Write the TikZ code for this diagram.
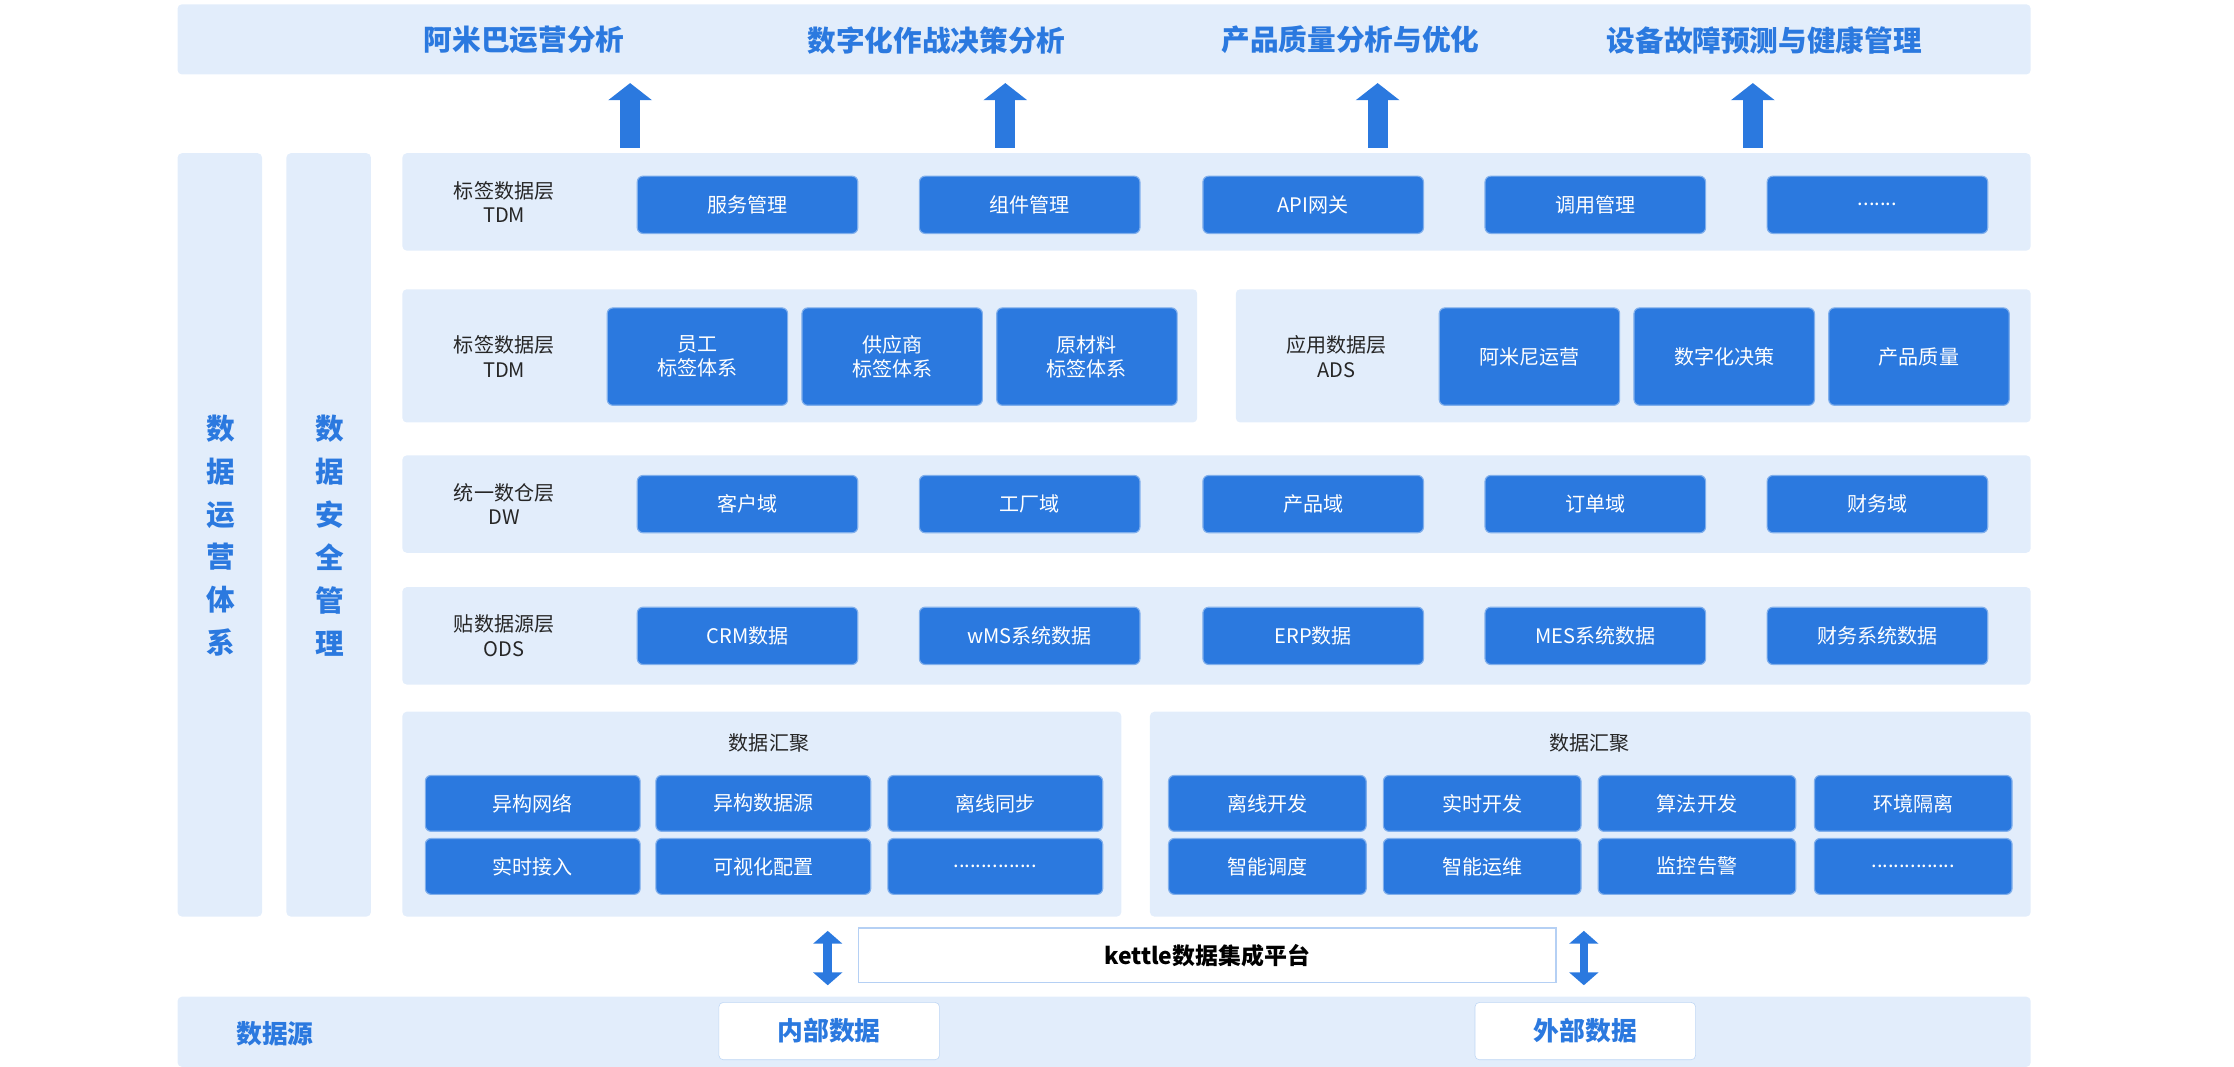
\documentclass[tikz,border=0pt]{standalone}
\usepackage{fontspec}
\setmainfont{Noto Sans CJK SC}
\usetikzlibrary{arrows.meta}
\definecolor{bandbg}{HTML}{E2EDFB}
\definecolor{boxblue}{HTML}{2B79DF}
\definecolor{titleblue}{HTML}{2B79DF}
\newcommand\shortdots{.......}
\newcommand\longdots{...............}
\begin{document}
\begin{tikzpicture}[x=1pt, y=-1pt,
    band/.style={fill=bandbg, draw=none, rounded corners=3pt},
    item/.style={rectangle, fill=boxblue, draw=boxblue!60, line width=0.8pt, rounded corners=4pt,
                 text=white, align=center, font=\fontsize{14}{17}\selectfont, inner sep=0pt},
    layer/.style={align=center, font=\fontsize{14}{17}\selectfont, text=black!85},
    head/.style={text=titleblue, font=\bfseries\fontsize{20}{24}\selectfont},
    uparrow/.style={-{Triangle[width=30pt,length=12pt]}, line width=14pt, boxblue},
    dblarrow/.style={{Triangle[width=20pt,length=9pt]}-{Triangle[width=20pt,length=9pt]}, line width=6pt, boxblue}]
  \useasboundingbox (0,0) rectangle (1560,745);
  % top band with goals
  \fill[band] (124,3) rectangle (1418,52);
  \foreach \x/\t [count=\i] in {366/阿米巴运营分析, 654/数字化作战决策分析, 943/产品质量分析与优化, 1232/设备故障预测与健康管理}
    \node[head] (goal\i) at (\x,28) {\t};
  \foreach \x [count=\i] in {440,702,962,1224} {
    \coordinate (up\i) at (\x,58);
    \draw[uparrow] (\x,103) -- (up\i);
  }
  % side columns
  \fill[band] (124,107) rectangle (183,640);
  \fill[band] (200,107) rectangle (259,640);
  \node[head, align=center, font=\bfseries\fontsize{20}{30}\selectfont] (ops) at (154,374) {数\\据\\运\\营\\体\\系};
  \node[head, align=center, font=\bfseries\fontsize{20}{30}\selectfont] (sec) at (230,374) {数\\据\\安\\全\\管\\理};
  % row 1
  \fill[band] (281,107) rectangle (1418,175);
  \node[layer] (l1) at (352,141) {标签数据层\\TDM};
  \foreach \x/\t [count=\i] in {522/服务管理, 719/组件管理, 917/API网关, 1114/调用管理, 1311/\shortdots}
    \node[item, minimum width=154pt, minimum height=40pt] (r1\i) at (\x,143) {\t};
  % row 2
  \fill[band] (281,202) rectangle (836,295);
  \fill[band] (863,202) rectangle (1418,295);
  \node[layer] (l2) at (352,249) {标签数据层\\TDM};
  \node[layer] (l2b) at (933,249) {应用数据层\\ADS};
  \foreach \x/\t [count=\i] in {487/{员工\\标签体系}, 623/{供应商\\标签体系}, 759/{原材料\\标签体系}}
    \node[item, minimum width=126pt, minimum height=68pt] (r2\i) at (\x,249) {\t};
  \foreach \x/\t [count=\i] in {1068/阿米尼运营, 1204/数字化决策, 1340/产品质量}
    \node[item, minimum width=126pt, minimum height=68pt] (r2b\i) at (\x,249) {\t};
  % row 3
  \fill[band] (281,318) rectangle (1418,386);
  \node[layer] (l3) at (352,352) {统一数仓层\\DW};
  \foreach \x/\t [count=\i] in {522/客户域, 719/工厂域, 917/产品域, 1114/订单域, 1311/财务域}
    \node[item, minimum width=154pt, minimum height=40pt] (r3\i) at (\x,352) {\t};
  % row 4
  \fill[band] (281,410) rectangle (1418,478);
  \node[layer] (l4) at (352,444) {贴数据源层\\ODS};
  \foreach \x/\t [count=\i] in {522/CRM数据, 719/wMS系统数据, 917/ERP数据, 1114/MES系统数据, 1311/财务系统数据}
    \node[item, minimum width=154pt, minimum height=40pt] (r4\i) at (\x,444) {\t};
  % row 5
  \fill[band] (281,497) rectangle (783,640);
  \fill[band] (803,497) rectangle (1418,640);
  \node[layer] (l5) at (537,519) {数据汇聚};
  \node[layer] (l5b) at (1110,519) {数据汇聚};
  \foreach \x/\ta/\tb [count=\i] in {372/异构网络/实时接入, 533/异构数据源/可视化配置, 695/离线同步/\longdots} {
    \node[item, minimum width=150pt, minimum height=39pt] (r5a\i) at (\x,561) {\ta};
    \node[item, minimum width=150pt, minimum height=39pt] (r5c\i) at (\x,605) {\tb};
  }
  \foreach \x/\ta/\tb [count=\i] in {885/离线开发/智能调度, 1035/实时开发/智能运维, 1185/算法开发/监控告警, 1336/环境隔离/\longdots} {
    \node[item, minimum width=138pt, minimum height=39pt] (r5b\i) at (\x,561) {\ta};
    \node[item, minimum width=138pt, minimum height=39pt] (r5d\i) at (\x,605) {\tb};
  }
  % integration platform
  \node[rectangle, fill=white, draw=boxblue!35, line width=0.8pt, minimum width=487pt, minimum height=38pt,
        font=\bfseries\fontsize{16}{19}\selectfont] (kettle) at (843,667) {kettle数据集成平台};
  \draw[dblarrow] (578,650) -- (578,688);
  \draw[dblarrow] (1106,650) -- (1106,688);
  % sources
  \fill[band] (124,696) rectangle (1418,745);
  \node[head, font=\bfseries\fontsize{18}{22}\selectfont] (src) at (192,722) {数据源};
  \node[rectangle, fill=white, draw=boxblue!30, rounded corners=3pt, minimum width=154pt, minimum height=40pt,
        text=titleblue, font=\bfseries\fontsize{18}{22}\selectfont] (inner) at (579,720) {内部数据};
  \node[rectangle, fill=white, draw=boxblue!30, rounded corners=3pt, minimum width=154pt, minimum height=40pt,
        text=titleblue, font=\bfseries\fontsize{18}{22}\selectfont] (outer) at (1107,720) {外部数据};
\end{tikzpicture}
\end{document}
